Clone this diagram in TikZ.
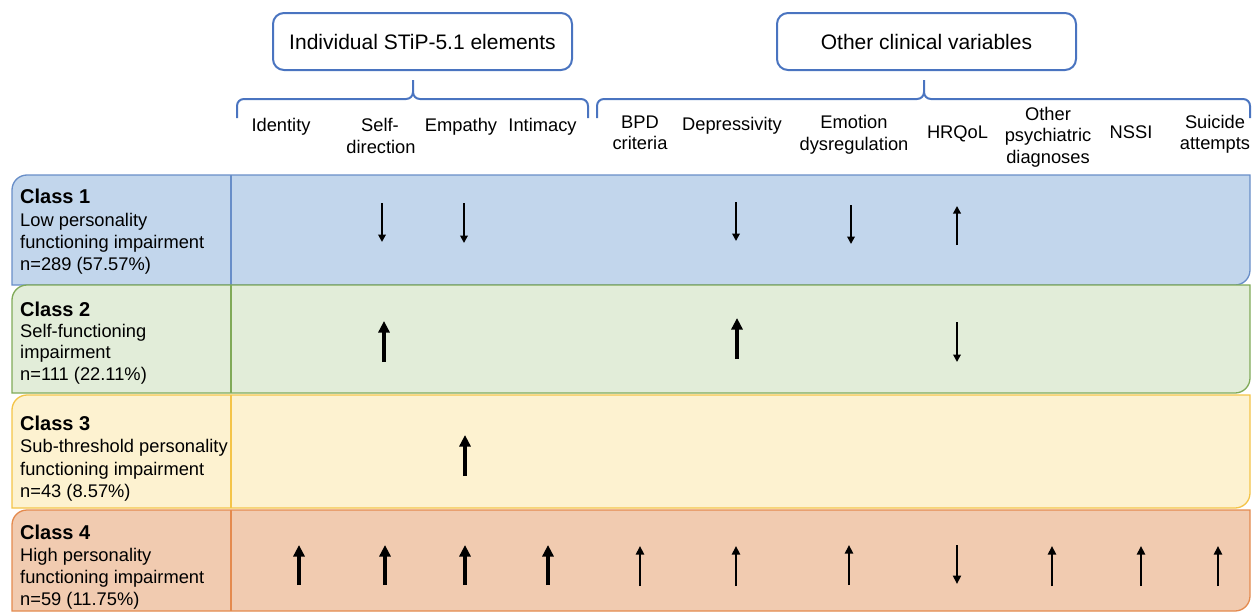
\documentclass[tikz,border=0pt]{standalone}
\usepackage{fontspec}
\setmainfont{Liberation Sans}
\usetikzlibrary{arrows.meta}
\definecolor{hdrblue}{RGB}{74,116,192}
\definecolor{fillA}{RGB}{194,214,236}
\definecolor{drawA}{RGB}{104,142,200}
\definecolor{fillB}{RGB}{226,237,217}
\definecolor{drawB}{RGB}{128,170,88}
\definecolor{fillC}{RGB}{253,242,208}
\definecolor{drawC}{RGB}{244,196,72}
\definecolor{fillD}{RGB}{241,203,176}
\definecolor{drawD}{RGB}{228,138,78}
\newcommand\classrow[4]{%
  \path[fill=#3, draw=#4, line width=1.3pt] (12,#2) -- (12,{#1+15}) .. controls (12,{#1+6.7}) and (18.7,#1) .. (27,#1) -- (1250,#1) -- (1250,{#2-15}) .. controls (1250,{#2-6.7}) and (1243.3,#2) .. (1235,#2) -- cycle;
  \draw[#4, line width=1.3pt] (231,#1) -- (231,#2);}
\begin{document}
\begin{tikzpicture}[x=1pt,y=-1pt,
  lbl/.style={font=\fontsize{18.3}{22}\selectfont, inner sep=0pt, anchor=base},
  clstitle/.style={font=\bfseries\fontsize{20}{24}\selectfont, inner sep=0pt, anchor=base west},
  clsbody/.style={font=\fontsize{18.3}{22}\selectfont, inner sep=0pt, anchor=base west},
  hdrbox/.style={draw=hdrblue, line width=2pt, rounded corners=11pt, minimum width=299pt, minimum height=57pt, inner sep=0pt, font=\fontsize{21}{25}\selectfont},
  brace/.style={draw=hdrblue, line width=2pt},
  thinarr/.style={line width=2pt, -{Triangle[length=7.5pt,width=7.5pt]}},
  medarr/.style={line width=2.6pt, -{Triangle[length=8.5pt,width=8pt]}},
  thickarr/.style={line width=4pt, -{Triangle[length=11.5pt,width=11pt]}}
]
\useasboundingbox (0,0) rectangle (1255,613);

% header boxes
\node[hdrbox] (boxA) at (422.5,41.5) {Individual STiP-5.1 elements};
\node[hdrbox] (boxB) at (926.5,41.5) {Other clinical variables};

% braces
\path[brace] (237,118) -- (237,106) .. controls (237,102) and (240,99) .. (244,99) -- (406,99) .. controls (410,99) and (413,96) .. (413,92) -- (413,80);
\path[brace] (413,92) .. controls (413,96) and (416,99) .. (420,99) -- (581,99) .. controls (585,99) and (588,102) .. (588,106) -- (588,118);
\path[brace] (597,118) -- (597,106) .. controls (597,102) and (600,99) .. (604,99) -- (917,99) .. controls (921,99) and (924,96) .. (924,92) -- (924,80);
\path[brace] (924,92) .. controls (924,96) and (927,99) .. (931,99) -- (1243,99) .. controls (1247,99) and (1250,102) .. (1250,106) -- (1250,118);

% column labels
\node[lbl] (lId) at (281,131) {Identity};
\node[lbl] (lSdA) at (380,131) {Self-};
\node[lbl] (lSdB) at (381,153) {direction};
\node[lbl] (lEm) at (461,131) {Empathy};
\node[lbl] (lIn) at (542.5,131) {Intimacy};
\node[lbl] (lBpA) at (640,128) {BPD};
\node[lbl] (lBpB) at (640,149) {criteria};
\node[lbl] (lDe) at (732,130) {Depressivity};
\node[lbl] (lEdA) at (854,128) {Emotion};
\node[lbl] (lEdB) at (854,150) {dysregulation};
\node[lbl] (lHr) at (957.5,138) {HRQoL};
\node[lbl] (lOpA) at (1048,120) {Other};
\node[lbl] (lOpB) at (1048,141) {psychiatric};
\node[lbl] (lOpC) at (1048,163) {diagnoses};
\node[lbl] (lNs) at (1131,138) {NSSI};
\node[lbl] (lSaA) at (1215,128) {Suicide};
\node[lbl] (lSaB) at (1215,149) {attempts};

% class rows
\classrow{175}{285}{fillA}{drawA}
\classrow{285}{393}{fillB}{drawB}
\classrow{395}{508}{fillC}{drawC}
\classrow{510}{611}{fillD}{drawD}

% class texts
\node[clstitle] (c1a) at (20,203) {Class 1};
\node[clsbody] (c1b) at (20,226) {Low personality};
\node[clsbody] (c1c) at (20,248) {functioning impairment};
\node[clsbody] (c1d) at (20,270) {n=289 (57.57\%)};

\node[clstitle] (c2a) at (20,316) {Class 2};
\node[clsbody] (c2b) at (20,337) {Self-functioning};
\node[clsbody] (c2c) at (20,358.5) {impairment};
\node[clsbody] (c2d) at (20,380) {n=111 (22.11\%)};

\node[clstitle] (c3a) at (20,430) {Class 3};
\node[clsbody] (c3b) at (20,452.5) {Sub-threshold personality};
\node[clsbody] (c3c) at (20,475) {functioning impairment};
\node[clsbody] (c3d) at (20,497) {n=43 (8.57\%)};

\node[clstitle] (c4a) at (20,539) {Class 4};
\node[clsbody] (c4b) at (20,561.5) {High personality};
\node[clsbody] (c4c) at (20,583.5) {functioning impairment};
\node[clsbody] (c4d) at (20,605.5) {n=59 (11.75\%)};

% arrows class 1
\draw[thinarr] (382,203) -- (382,242);
\draw[thinarr] (464,203) -- (464,243);
\draw[thinarr] (736,202) -- (736,241);
\draw[thinarr] (851,205) -- (851,244);
\draw[thinarr] (957,245) -- (957,206);

% arrows class 2
\draw[thickarr] (384,362) -- (384,321);
\draw[thickarr] (737,359) -- (737,318);
\draw[thinarr] (957,322) -- (957,362);

% arrows class 3
\draw[thickarr] (465,476) -- (465,435);

% arrows class 4
\draw[thickarr] (299,585) -- (299,545);
\draw[thickarr] (385,585) -- (385,545);
\draw[thickarr] (465,585) -- (465,545);
\draw[thickarr] (548,585) -- (548,545);
\draw[medarr] (640,586) -- (640,546);
\draw[medarr] (736,586) -- (736,546);
\draw[medarr] (849,585) -- (849,545);
\draw[medarr] (957,545) -- (957,584);
\draw[medarr] (1052,586) -- (1052,546);
\draw[medarr] (1141,586) -- (1141,546);
\draw[medarr] (1218,586) -- (1218,546);
\end{tikzpicture}
\end{document}
